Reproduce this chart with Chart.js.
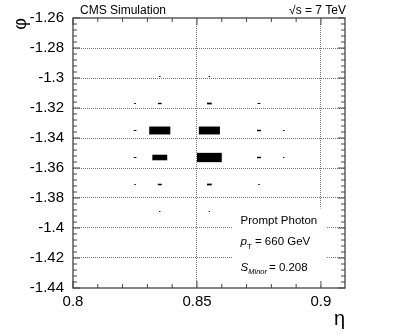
<!DOCTYPE html>
<html>
<head>
<meta charset="utf-8">
<script src="https://cdn.jsdelivr.net/npm/chart.js@4"></script>
<style>
  html, body { margin: 0; padding: 0; background: #fff; }
  canvas { display: block; }
</style>
</head>
<body>
<canvas id="clusterChart" width="407" height="335"></canvas>
<script>
// crystal centres and energy deposited in each one (GeV)
var etaCols = [0.825, 0.835, 0.855, 0.875, 0.885];
var phiRows = [-1.299, -1.317, -1.335, -1.353, -1.371, -1.389];
var energyGeV = [
    [0,   1.1,  1.1,  0,   0],
    [1.5, 6.8,  10.8, 3.6, 0],
    [3.6, 217,  217,  7.7, 1.1],
    [3.6, 108,  300,  7.7, 0.75],
    [1.0, 7.7,  10.8, 1.1, 0],
    [0,   0.75, 0.75, 0,   0]
];
var xTicks = [0.8, 0.85, 0.9];
var yTicks = [-1.44, -1.42, -1.4, -1.38, -1.36, -1.34, -1.32, -1.3, -1.28, -1.26];
var ptGeV = 660;
var sMinor = 0.208;

// full box size of the hottest cell, in axis units
var cellW = 0.01;
var cellH = 0.0062;
var font = "'Liberation Sans', Arial, Helvetica, sans-serif";

var cells = [];
phiRows.forEach(function (phi, r) {
    etaCols.forEach(function (eta, c) {
        if (energyGeV[r][c] > 0) cells.push({ x: eta, y: phi, e: energyGeV[r][c] });
    });
});
var eMax = Math.max.apply(null, cells.map(function (p) { return p.e; }));

function fmt(v) { return String(Number(v.toFixed(2))); }

// ROOT style boxes, area ~ energy
var boxPlugin = {
    id: 'boxes',
    afterDatasetsDraw: function (chart) {
        var ctx = chart.ctx, xs = chart.scales.x, ys = chart.scales.y;
        ctx.save();
        ctx.fillStyle = '#000';
        chart.data.datasets[0].data.forEach(function (p) {
            var f = Math.sqrt(p.e / eMax);
            var x0 = xs.getPixelForValue(p.x - cellW * f / 2);
            var x1 = xs.getPixelForValue(p.x + cellW * f / 2);
            var y0 = ys.getPixelForValue(p.y + cellH * f / 2);
            var y1 = ys.getPixelForValue(p.y - cellH * f / 2);
            var w = Math.max(x1 - x0, 1), h = Math.max(y1 - y0, 1);
            var cx = (x0 + x1) / 2, cy = (y0 + y1) / 2;
            ctx.fillRect(cx - w / 2, cy - h / 2, w, h);
        });
        ctx.restore();
    }
};

// white pave behind the info text
var pavePlugin = {
    id: 'pave',
    beforeDatasetsDraw: function (chart) {
        var a = chart.chartArea, ctx = chart.ctx;
        var w = a.right - a.left, h = a.bottom - a.top;
        ctx.save();
        ctx.fillStyle = '#fff';
        ctx.fillRect(a.left + 0.588 * w, a.top + 0.705 * h, 0.342 * w, 0.285 * h);
        ctx.restore();
    }
};

// frame with inward ticks on all four sides
var framePlugin = {
    id: 'frame',
    afterDatasetsDraw: function (chart) {
        var a = chart.chartArea, ctx = chart.ctx, xs = chart.scales.x, ys = chart.scales.y;
        ctx.save();
        ctx.strokeStyle = '#444';
        ctx.lineWidth = 1.3;
        ctx.strokeRect(a.left, a.top, a.right - a.left, a.bottom - a.top);
        ctx.lineWidth = 1;
        ctx.beginPath();
        var i, px, len;
        for (i = 0; i <= 10; i++) {
            px = xs.getPixelForValue(0.8 + i * 0.01);
            len = i % 5 === 0 ? 7 : 4;
            ctx.moveTo(px, a.bottom); ctx.lineTo(px, a.bottom - len);
            ctx.moveTo(px, a.top); ctx.lineTo(px, a.top + len);
        }
        for (i = 0; i <= 45; i++) {
            px = ys.getPixelForValue(-1.44 + i * 0.004);
            len = i % 5 === 0 ? 7 : 4;
            ctx.moveTo(a.left, px); ctx.lineTo(a.left + len, px);
            ctx.moveTo(a.right, px); ctx.lineTo(a.right - len, px);
        }
        ctx.stroke();
        ctx.restore();
    }
};

var textPlugin = {
    id: 'labels',
    afterDraw: function (chart) {
        var a = chart.chartArea, ctx = chart.ctx;
        var w = a.right - a.left;
        ctx.save();
        ctx.fillStyle = '#000';
        ctx.textBaseline = 'alphabetic';
        ctx.font = '12px ' + font;
        ctx.textAlign = 'left';
        ctx.fillText('CMS Simulation', a.left + 7, 13.5);
        ctx.textAlign = 'right';
        ctx.fillText('\u221As = 7 TeV', a.right + 1, 13.5);

        var x = a.left + 0.616 * w;
        ctx.textAlign = 'left';
        ctx.font = '11.5px ' + font;
        ctx.fillText('Prompt Photon', x, 224);

        ctx.font = 'italic 11.5px ' + font;
        ctx.fillText('p', x, 245);
        var pw = ctx.measureText('p').width;
        ctx.font = '8px ' + font;
        ctx.fillText('T', x + pw, 249);
        ctx.font = '11.5px ' + font;
        ctx.fillText('= ' + ptGeV + ' GeV', x + pw + 8, 245);

        ctx.font = 'italic 11.5px ' + font;
        ctx.fillText('S', x, 271);
        var sw = ctx.measureText('S').width;
        ctx.font = 'italic 7.5px ' + font;
        ctx.fillText('Minor', x + sw, 274);
        var mw = ctx.measureText('Minor').width;
        ctx.font = '11.5px ' + font;
        ctx.fillText('= ' + sMinor, x + sw + mw + 2, 271);
        ctx.restore();
    }
};

var ctx = document.getElementById('clusterChart').getContext('2d');
var chart = new Chart(ctx, {
    type: 'scatter',
    data: {
        datasets: [{
            label: 'cells',
            data: cells,
            pointRadius: 0,
            pointHoverRadius: 0
        }]
    },
    options: {
        responsive: false,
        animation: false,
        layout: { padding: { top: 16.5, right: 62, left: 0, bottom: 0 } },
        plugins: {
            legend: { display: false },
            tooltip: { enabled: false }
        },
        scales: {
            x: {
                type: 'linear',
                min: 0.8,
                max: 0.9097,
                afterBuildTicks: function (s) { s.ticks = xTicks.map(function (v) { return { value: v }; }); },
                afterFit: function (s) { s.height = 47; },
                grid: {
                    drawTicks: false,
                    lineWidth: 1,
                    color: function (c) {
                        var v = c.tick ? c.tick.value : null;
                        return (v !== null && v > 0.81) ? '#777' : 'rgba(0,0,0,0)';
                    }
                },
                border: { display: false, dash: [1, 1] },
                ticks: {
                    autoSkip: false,
                    maxRotation: 0,
                    padding: 5,
                    color: '#000',
                    font: { family: font, size: 15 },
                    callback: function (v) { return fmt(v); }
                },
                title: {
                    display: true,
                    text: '\u03B7',
                    align: 'end',
                    color: '#000',
                    font: { family: font, size: 20 },
                    padding: { top: 0, bottom: 4 }
                }
            },
            y: {
                type: 'linear',
                min: -1.44,
                max: -1.26,
                afterBuildTicks: function (s) { s.ticks = yTicks.map(function (v) { return { value: v }; }); },
                afterFit: function (s) { s.width = 73; },
                grid: {
                    drawTicks: false,
                    lineWidth: 1,
                    color: function (c) {
                        var v = c.tick ? c.tick.value : null;
                        return (v !== null && v > -1.435 && v < -1.265) ? '#777' : 'rgba(0,0,0,0)';
                    }
                },
                border: { display: false, dash: [1, 1] },
                ticks: {
                    autoSkip: false,
                    padding: 9,
                    color: '#000',
                    font: { family: font, size: 15 },
                    callback: function (v) { return fmt(v); }
                },
                title: {
                    display: true,
                    text: '\u03C6',
                    align: 'end',
                    color: '#000',
                    font: { family: font, size: 18 },
                    padding: { top: 10, bottom: 0 }
                }
            }
        }
    },
    plugins: [pavePlugin, boxPlugin, framePlugin, textPlugin]
});
</script>
</body>
</html>
